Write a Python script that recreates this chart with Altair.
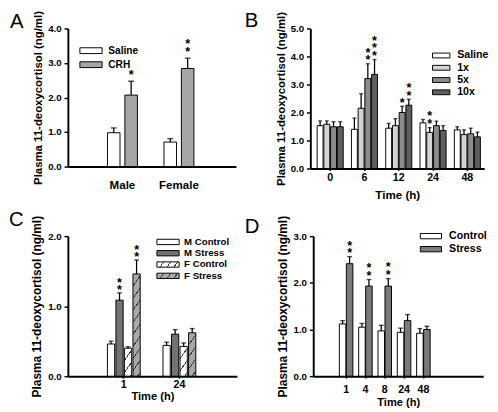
import json
import altair as alt
import pandas as pd

FONT = "Liberation Sans"
YTITLE = "Plasma 11-deoxycortisol (ng/ml)"

# ---------------- Panel A ----------------
a_groups = ["Male", "Female"]
a_series = ["Saline", "CRH"]
a_saline_mean = [0.98, 0.71]
a_saline_upper = [1.12, 0.81]
a_crh_mean = [2.07, 2.84]
a_crh_upper = [2.47, 3.14]
a_saline_stars = [0, 0]
a_crh_stars = [1, 2]
a_colors = ["#ffffff", "#a6a6a6"]

# ---------------- Panel B ----------------
b_groups = ["0", "6", "12", "24", "48"]
b_series = ["Saline", "1x", "5x", "10x"]
b_saline_mean = [1.53, 1.40, 1.44, 1.63, 1.38]
b_saline_upper = [1.70, 1.80, 1.61, 1.75, 1.49]
b_1x_mean = [1.58, 2.15, 1.53, 1.29, 1.21]
b_1x_upper = [1.70, 2.67, 1.78, 1.46, 1.38]
b_5x_mean = [1.49, 3.21, 2.00, 1.53, 1.24]
b_5x_upper = [1.67, 3.74, 2.22, 1.69, 1.44]
b_10x_mean = [1.49, 3.36, 2.26, 1.36, 1.13]
b_10x_upper = [1.67, 3.89, 2.47, 1.53, 1.30]
b_saline_stars = [0, 0, 0, 0, 0]
b_1x_stars = [0, 0, 0, 2, 0]
b_5x_stars = [0, 2, 1, 0, 0]
b_10x_stars = [0, 3, 2, 0, 0]
b_colors = ["#ffffff", "#d4d4d4", "#8c8c8c", "#5f5f5f"]

# ---------------- Panel C ----------------
c_groups = ["1", "24"]
c_series = ["M Control", "M Stress", "F Control", "F Stress"]
c_mc_mean = [0.46, 0.44]
c_mc_upper = [0.50, 0.485]
c_ms_mean = [1.085, 0.60]
c_ms_upper = [1.19, 0.665]
c_fc_mean = [0.40, 0.425]
c_fc_upper = [0.42, 0.475]
c_fs_mean = [1.46, 0.62]
c_fs_upper = [1.66, 0.68]
c_mc_stars = [0, 0]
c_ms_stars = [2, 0]
c_fc_stars = [0, 0]
c_fs_stars = [2, 0]
c_colors = ["#ffffff", "#737373", "#ffffff", "#a9a9a9"]

# ---------------- Panel D ----------------
d_groups = ["1", "4", "8", "24", "48"]
d_series = ["Control", "Stress"]
d_control_mean = [1.12, 1.05, 0.97, 0.94, 0.92]
d_control_upper = [1.19, 1.13, 1.09, 1.03, 1.02]
d_stress_mean = [2.41, 1.93, 1.93, 1.19, 1.00]
d_stress_upper = [2.56, 2.07, 2.09, 1.32, 1.07]
d_control_stars = [0, 0, 0, 0, 0]
d_stress_stars = [2, 2, 2, 0, 0]
d_colors = ["#ffffff", "#7a7a7a"]
# empty slots on the time axis of panel D (the axis runs on past 48 h)
d_slots = [" "] + d_groups + ["  ", "   "]


def make_df(groups, series, means, uppers, stars):
    rows = []
    for s, ml, ul, sl in zip(series, means, uppers, stars):
        for g, m, u, st in zip(groups, ml, ul, sl):
            rows.append({"group": g, "series": s, "mean": m, "upper": u, "nstars": st})
    return pd.DataFrame(rows)


def hatch(base, w, h, m, period, half=0.8, line="#3a3a3a"):
    total = m * w + h
    stops = [{"offset": 0.0, "color": base}]
    k = 1
    while k * period - half < total:
        c = k * period
        o1 = round(max(0.0, (c - half) / total), 4)
        o2 = round(min(1.0, (c + half) / total), 4)
        stops += [{"offset": o1, "color": base}, {"offset": o1, "color": line},
                  {"offset": o2, "color": line}, {"offset": o2, "color": base}]
        k += 1
    stops.append({"offset": 1.0, "color": base})
    denom = m * m * w * w + h * h
    return {"gradient": "linear", "x1": 0, "y1": 0,
            "x2": round(m * w * total / denom, 5),
            "y2": round(h * total / denom, 5), "stops": stops}


def rect_path(w, h):
    # legend swatch: a w x h rectangle; the symbol size is kept small so that
    # the label, not the swatch, sets the legend row height
    s = w / 3
    return f"M-3,-{h / s:.3f}H3V{h / s:.3f}H-3Z", s * s


def panel(df, groups, series, colors, cfg):
    xaxis = dict(values=groups, labelAngle=0, ticks=cfg["xticks"], tickSize=2,
                 tickWidth=1.5, tickColor="black", domainColor="black", domainWidth=2,
                 labelFont=FONT, labelFontWeight="bold", labelFontSize=cfg["xlabel_size"],
                 labelColor="black", labelPadding=cfg["xlabel_pad"],
                 titleFont=FONT, titleFontWeight="bold", titleFontSize=cfg["xtitle_size"],
                 titleColor="black", titlePadding=cfg["xtitle_pad"])
    xaxis["title"] = cfg.get("xtitle")
    pi, po, al = cfg["xpad"]
    domain = cfg.get("domain", groups)
    x = alt.X("group:N", sort=domain,
              scale=alt.Scale(domain=domain, paddingInner=pi, paddingOuter=po, align=al),
              axis=alt.Axis(**xaxis))
    xo = alt.XOffset("series:N", sort=series,
                     scale=alt.Scale(domain=series, paddingInner=cfg["subpad"], paddingOuter=0))
    ymax = cfg["ymax"]
    yaxis = alt.Axis(values=list(range(ymax + 1)), format=".1f", title=YTITLE, grid=False,
                     tickSize=4, tickWidth=1.5, tickColor="black", domainColor="black",
                     domainWidth=2, labelFont=FONT, labelFontWeight="bold",
                     labelFontSize=cfg["ylabel_size"], labelColor="black", labelPadding=3,
                     titleFont=FONT, titleFontWeight="bold", titleFontSize=cfg["ytitle_size"],
                     titleColor="black", titlePadding=cfg["ytitle_pad"])
    yscale = alt.Scale(domain=[0, ymax], nice=False, zero=True)

    lg = cfg["legend"]
    path, size = rect_path(lg["w"], lg["h"])
    third = lg["w"] / 3
    legend = alt.Legend(orient="none", legendX=lg["x"] + third, legendY=lg["y"], title=None,
                        symbolType=path, symbolSize=size,
                        symbolStrokeColor="black", symbolStrokeWidth=1,
                        labelFont=FONT, labelFontWeight="bold", labelFontSize=lg["font"],
                        labelColor="black", rowPadding=lg["rowpad"],
                        labelOffset=third + lg["gap"], padding=0)
    fill_kw = dict(sort=series, scale=alt.Scale(domain=series, range=cfg.get("range", colors)),
                   legend=legend)
    if cfg.get("conditions"):
        fill_kw["condition"] = cfg["conditions"]
    fill = alt.Fill("series:N", **fill_kw)

    base = alt.Chart(df)
    bars = base.mark_bar(stroke="black", strokeWidth=1).encode(
        x=x, xOffset=xo, y=alt.Y("mean:Q", scale=yscale, axis=yaxis), fill=fill)
    rules = base.mark_rule(color="black", strokeWidth=1.3).encode(
        x=x, xOffset=xo, y=alt.Y("mean:Q", scale=yscale, axis=yaxis), y2=alt.Y2("upper:Q"))
    caps = base.mark_tick(color="black", thickness=1.4, size=cfg["cap"], orient="horizontal").encode(
        x=x, xOffset=xo, y=alt.Y("upper:Q", scale=yscale, axis=yaxis))
    layers = [bars, rules, caps]
    for k in (1, 2, 3):
        layers.append(base.transform_filter(f"datum.nstars >= {k}").mark_text(
            text="*", font=FONT, fontSize=13, fontWeight="bold", color="black",
            baseline="middle", dy=cfg["star_dy"] - 8 * (k - 1)).encode(
            x=x, xOffset=xo, y=alt.Y("upper:Q", scale=yscale, axis=yaxis)))
    # panel letter, placed up and to the left of the plot area
    letter = alt.Chart(pd.DataFrame({"letter": [cfg["letter"]]})).mark_text(
        font=FONT, fontSize=21, align="left", baseline="alphabetic", color="black").encode(
        text="letter:N", x=alt.value(cfg["lx"]), y=alt.value(cfg["ly"]))
    layers.append(letter)
    return alt.layer(*layers).properties(width=cfg["width"], height=cfg["height"])


dfA = make_df(a_groups, a_series, [a_saline_mean, a_crh_mean],
              [a_saline_upper, a_crh_upper], [a_saline_stars, a_crh_stars])
chartA = panel(dfA, a_groups, a_series, a_colors, dict(
    letter="A", lx=-60, ly=0, width=174, height=143, ymax=4,
    xpad=(0.47, 0.722, 0.485), subpad=0.28, xticks=False, xlabel_size=12, xlabel_pad=14,
    xtitle_size=12, xtitle_pad=2, ylabel_size=10, ytitle_size=11.8, ytitle_pad=4,
    cap=6, star_dy=-6.4,
    legend=dict(x=11, y=17.75, w=23, h=6, font=10.5, rowpad=3.5, gap=5)))

dfB = make_df(b_groups, b_series, [b_saline_mean, b_1x_mean, b_5x_mean, b_10x_mean],
              [b_saline_upper, b_1x_upper, b_5x_upper, b_10x_upper],
              [b_saline_stars, b_1x_stars, b_5x_stars, b_10x_stars])
chartB = panel(dfB, b_groups, b_series, b_colors, dict(
    letter="B", lx=-68, ly=-2, width=180, height=145, ymax=5,
    xpad=(0.24, 0.155, 0.64), subpad=0.12, xticks=True, xlabel_size=11, xlabel_pad=1.5,
    xtitle="Time (h)", xtitle_size=12, xtitle_pad=8, ylabel_size=10, ytitle_size=11.8,
    ytitle_pad=4, cap=4, star_dy=-3.4,
    legend=dict(x=124, y=22.5, w=18, h=5, font=11, rowpad=0.7, gap=5)))

# hatch fills for the female bars of panel C
C_W, C_H, C_Y = 175, 145, 2
c_px = C_H / C_Y
c_barw = 7.5
c_conditions = []
for s, means, base_col in [("F Control", c_fc_mean, c_colors[2]), ("F Stress", c_fs_mean, c_colors[3])]:
    for g, m in zip(c_groups, means):
        c_conditions.append({
            "test": f"datum.series === '{s}' && datum.group === '{g}'",
            "value": hatch(base_col, c_barw, m * c_px, 1.4, 12.5)})
c_range = [c_colors[0], c_colors[1],
           {"expr": json.dumps(hatch(c_colors[2], 23, 5.5, 1.4, 10))},
           {"expr": json.dumps(hatch(c_colors[3], 23, 5.5, 1.4, 10))}]

dfC = make_df(c_groups, c_series, [c_mc_mean, c_ms_mean, c_fc_mean, c_fs_mean],
              [c_mc_upper, c_ms_upper, c_fc_upper, c_fs_upper],
              [c_mc_stars, c_ms_stars, c_fc_stars, c_fs_stars])
chartC = panel(dfC, c_groups, c_series, c_colors, dict(
    letter="C", lx=-61, ly=-10, width=C_W, height=C_H, ymax=C_Y,
    xpad=(0.41, 0.725, 0.49), subpad=0.15, xticks=True, xlabel_size=11, xlabel_pad=0.5,
    xtitle="Time (h)", xtitle_size=11.5, xtitle_pad=1.5, ylabel_size=10, ytitle_size=12.3,
    ytitle_pad=4, cap=5, star_dy=-2.4, conditions=c_conditions, range=c_range,
    legend=dict(x=91, y=1, w=23, h=5.5, font=10, rowpad=1.7, gap=4)))

dfD = make_df(d_groups, d_series, [d_control_mean, d_stress_mean],
              [d_control_upper, d_stress_upper], [d_control_stars, d_stress_stars])
chartD = panel(dfD, d_groups, d_series, d_colors, dict(
    letter="D", lx=-71, ly=-3, width=176, height=145, ymax=3, domain=d_slots,
    xpad=(0.3, 0.55, 0.32), subpad=0.07, xticks=True, xlabel_size=11, xlabel_pad=6,
    xtitle="Time (h)", xtitle_size=11.5, xtitle_pad=2, ylabel_size=10, ytitle_size=12.3,
    ytitle_pad=4, cap=5, star_dy=-3.4,
    legend=dict(x=109, y=-5.5, w=22, h=5.5, font=11, rowpad=1.5, gap=6)))

indep = dict(fill="independent", xOffset="independent", x="independent", y="independent")
top = alt.hconcat(chartA, chartB, spacing=7).resolve_scale(**indep)
bottom = alt.hconcat(chartC, chartD, spacing=6).resolve_scale(**indep)
chart = alt.vconcat(top, bottom, spacing=8).resolve_scale(**indep).properties(
    padding={"left": 0, "top": -6, "right": 0, "bottom": 0}, background="white"
).configure_view(stroke="transparent")

chart.save("out.html", embed_options={"renderer": "svg", "actions": False})
